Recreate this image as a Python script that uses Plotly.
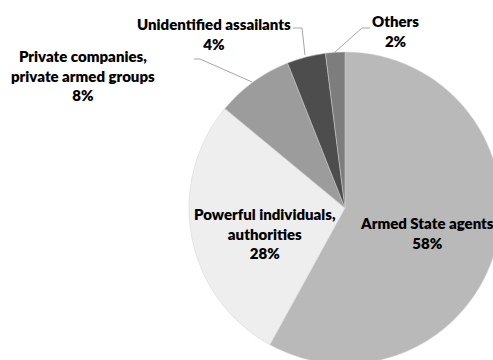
import plotly.graph_objects as go

categories = ["Armed State agents", "Powerful individuals, authorities",
              "Private companies, private armed groups", "Unidentified assailants", "Others"]
values = [58, 28, 8, 4, 2]
colors = ["#b9b9b9", "#eeeeee", "#9c9c9c", "#4d4d4d", "#7d7d7d"]
label_texts = ["Armed State agents<br>58%", "Powerful individuals,<br>authorities<br>28%",
               "Private companies,<br>private armed groups<br>8%", "Unidentified assailants<br>4%",
               "Others<br>2%"]

W, H = 520, 380  # figure larger than window so the pie is cropped like the original


def px(x):
    return x / W


def py(y):
    return 1 - y / H


cx, cy, r = 345, 208, 156

fig = go.Figure(go.Pie(
    labels=categories, values=values, sort=False, direction="clockwise", rotation=0,
    marker=dict(colors=colors, line=dict(color="#d0d0d0", width=0.5)),
    textinfo="none", hoverinfo="label+percent",
    domain=dict(x=[px(cx - r), px(cx + r)], y=[py(cy + r), py(cy - r)]),
    showlegend=False,
))

font = dict(family="Lato, 'Open Sans', sans-serif", size=15, color="#000000", weight=800)
label_pos = [(427, 233), (265, 233), (83, 76), (214, 34), (395, 31)]
for t, (x, y) in zip(label_texts, label_pos):
    fig.add_annotation(text=t,
                       x=px(x), y=py(y), xref="paper", yref="paper",
                       showarrow=False, font=font, align="center",
                       xanchor="center", yanchor="middle")

leaders = [
    [(293, 28), (302, 28), (305, 55)],
    [(370, 28), (362, 28), (335, 52)],
    [(194, 59), (200, 59), (252, 82)],
]
for pts in leaders:
    path = "M " + " L ".join(f"{px(a)},{py(b)}" for a, b in pts)
    fig.add_shape(type="path", path=path, xref="paper", yref="paper",
                  line=dict(color="#a6a6a6", width=1))

fig.update_layout(width=W, height=H, margin=dict(l=0, r=0, t=0, b=0),
                  paper_bgcolor="white", plot_bgcolor="white")

fig.write_html("out.html", config={"displayModeBar": False},
               post_script="document.body.style.margin='0px';document.body.style.overflow='hidden';")
